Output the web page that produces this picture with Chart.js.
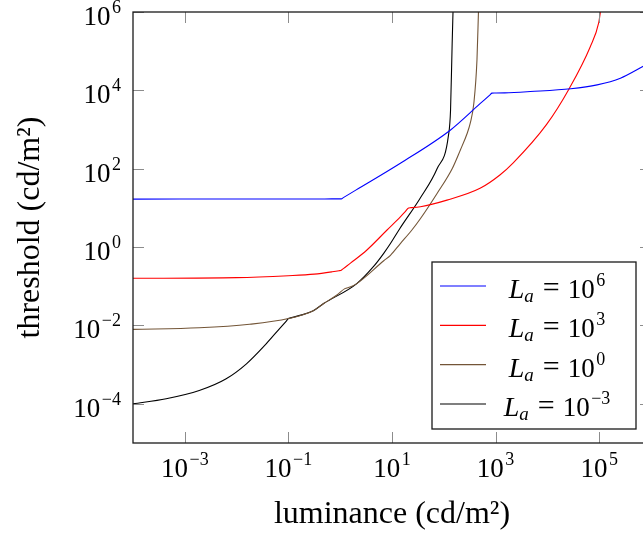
<!DOCTYPE html>
<html>
<head>
<meta charset="utf-8">
<script src="https://cdn.jsdelivr.net/npm/chart.js@4/dist/chart.umd.min.js"></script>
<style>
  html, body { margin: 0; padding: 0; overflow: hidden; background: #fff; }
</style>
</head>
<body>
<canvas id="chart" width="652" height="534"></canvas>
<script>
// adaptation luminance exponents (legend: L_a = 10^e)
const adaptExps = [6, 3, 0, -3];
const lineColors = ['#0000ff', '#ff0000', 'rgb(115,85,55)', '#000000'];

// La = 10^6
const lumBlue = [1e-4, 0.01, 0.5, 0.9, 1.05, 1.15, 2.0, 14.5, 135, 501, 780, 851, 950, 1500, 4680, 28200, 91200, 257000, 724000];
const thrBlue = [16.8, 16.85, 16.95, 16.98, 17.0, 18.3, 28.4, 138, 977, 4570, 7670, 8510, 8550, 8610, 9330, 11000, 13800, 20400, 41700];

// La = 10^3
const lumRed = [1e-4, 0.01, 0.1, 0.316, 0.7, 0.95, 1.05, 1.15, 1.6, 3.24, 7.94, 14.5, 17.8, 20.9, 23, 35.5, 115, 501, 1210, 2190, 9660, 26300, 67600, 97700, 107000];
const thrRed = [0.160, 0.166, 0.186, 0.204, 0.234, 0.250, 0.257, 0.283, 0.395, 0.832, 2.69, 5.89, 7.9, 10.0, 10.15, 10.7, 15.8, 31.6, 69.2, 141, 1350, 11000, 132000, 525000, 1150000];

// La = 10^0
const lumBrown = [1e-4, 0.0019, 0.0178, 0.1, 0.302, 0.479, 0.851, 1.23, 1.55, 2.09, 6.92, 9.33, 14.5, 24.0, 35.5, 74.1, 145, 209, 282, 324, 380, 437, 468];
const thrBrown = [0.00794, 0.0087, 0.0107, 0.0150, 0.0238, 0.0363, 0.0589, 0.0871, 0.0955, 0.117, 0.447, 0.617, 1.23, 2.69, 5.37, 23.4, 100, 302, 794, 1450, 4680, 60300, 1150000];

// La = 10^-3
const lumBlack = [1e-4, 4.37e-4, 0.0019, 0.0063, 0.0155, 0.0372, 0.0676, 0.092, 0.1, 0.11, 0.302, 0.479, 2.09, 4.37, 6.92, 9.33, 14.1, 34.7, 74.1, 123, 135, 145, 151];
const thrBlack = [1.0e-4, 1.35e-4, 2.19e-4, 4.37e-4, 0.00105, 0.00339, 0.00832, 0.01315, 0.0150, 0.0156, 0.0238, 0.0363, 0.117, 0.316, 0.692, 1.23, 2.95, 17.4, 100, 708, 3160, 158000, 1150000];

// tick labels (powers of ten)
const xTickExps = [-3, -1, 1, 3, 5];
const yTickExps = [-4, -2, 0, 2, 4, 6];

const serif = '"Liberation Serif", "Times New Roman", serif';

function pts(xs, ys) {
  return xs.map((x, i) => ({ x: x, y: ys[i] }));
}

function supText(e) {
  return e < 0 ? '\u2212' + (-e) : String(e);
}

// draws "10^e" with a raised exponent
function drawPow(ctx, e, x, baseY, align, big, small) {
  const sup = supText(e);
  ctx.font = big + 'px ' + serif;
  const wb = ctx.measureText('10').width;
  ctx.font = small + 'px ' + serif;
  const ws = ctx.measureText(sup).width;
  const w = wb + 1.5 + ws;
  let left = x;
  if (align === 'center') left = x - w / 2;
  if (align === 'right') left = x - w;
  ctx.textAlign = 'left';
  ctx.textBaseline = 'alphabetic';
  ctx.font = big + 'px ' + serif;
  ctx.fillText('10', left, baseY);
  ctx.font = small + 'px ' + serif;
  ctx.fillText(sup, left + wb + 1.5, baseY - 12);
  return w;
}

function powWidth(ctx, e, big, small) {
  ctx.font = big + 'px ' + serif;
  const wb = ctx.measureText('10').width;
  ctx.font = small + 'px ' + serif;
  return wb + 1.5 + ctx.measureText(supText(e)).width;
}

const axesPlugin = {
  id: 'pgfAxes',
  afterDraw(chart) {
    const ctx = chart.ctx;
    const a = chart.chartArea;
    const xs = chart.scales.x, ys = chart.scales.y;
    ctx.save();
    ctx.fillStyle = '#000';

    // tick marks (inward)
    ctx.strokeStyle = '#8c8c8c';
    ctx.lineWidth = 1;
    xTickExps.forEach(e => {
      const px = Math.round(xs.getPixelForValue(Math.pow(10, e))) + 0.5;
      ctx.beginPath();
      ctx.moveTo(px, a.bottom); ctx.lineTo(px, a.bottom - 11);
      ctx.moveTo(px, a.top); ctx.lineTo(px, a.top + 11);
      ctx.stroke();
    });
    yTickExps.forEach(e => {
      const py = Math.round(ys.getPixelForValue(Math.pow(10, e))) + 0.5;
      ctx.beginPath();
      ctx.moveTo(a.left, py); ctx.lineTo(a.left + 11, py);
      ctx.moveTo(a.right, py); ctx.lineTo(a.right - 11, py);
      ctx.stroke();
    });

    // frame
    ctx.strokeStyle = '#1a1a1a';
    ctx.lineWidth = 1.3;
    ctx.strokeRect(a.left, a.top, a.right - a.left, a.bottom - a.top);

    // tick labels
    xTickExps.forEach(e => {
      drawPow(ctx, e, xs.getPixelForValue(Math.pow(10, e)), a.bottom + 34, 'center', 27, 18);
    });
    yTickExps.forEach(e => {
      drawPow(ctx, e, a.left - 12, ys.getPixelForValue(Math.pow(10, e)) + 13, 'right', 27, 18);
    });

    // axis titles
    ctx.font = '32px ' + serif;
    ctx.textAlign = 'center';
    ctx.textBaseline = 'alphabetic';
    ctx.fillText('luminance (cd/m\u00b2)', (a.left + a.right) / 2, a.bottom + 80);
    ctx.save();
    ctx.translate(39, (a.top + a.bottom) / 2);
    ctx.rotate(-Math.PI / 2);
    ctx.fillText('threshold (cd/m\u00b2)', 0, 0);
    ctx.restore();

    // legend
    const bw = 204, bh = 167;
    const bx = a.right - 15 - bw, by = a.bottom - 14 - bh;
    ctx.fillStyle = '#fff';
    ctx.fillRect(bx, by, bw, bh);
    ctx.strokeStyle = '#1a1a1a';
    ctx.lineWidth = 1.3;
    ctx.strokeRect(bx, by, bw, bh);
    adaptExps.forEach((e, i) => {
      const ry = by + 24 + i * 39.33;
      ctx.strokeStyle = lineColors[i];
      ctx.lineWidth = 1.2;
      ctx.beginPath();
      ctx.moveTo(bx + 8, ry);
      ctx.lineTo(bx + 54, ry);
      ctx.stroke();

      const base = ry + 12;
      ctx.font = 'italic 28px ' + serif;
      const wL = ctx.measureText('L').width;
      ctx.font = 'italic 19px ' + serif;
      const wa = ctx.measureText('a').width;
      ctx.font = '30px ' + serif;
      const wEq = ctx.measureText('=').width;
      const wP = powWidth(ctx, e, 27, 18);
      const g1 = 9, g2 = 8;
      const total = wL + wa + g1 + wEq + g2 + wP;
      let x = bx + 125 - total / 2;
      ctx.fillStyle = '#000';
      ctx.textAlign = 'left';
      ctx.font = 'italic 28px ' + serif;
      ctx.fillText('L', x, base); x += wL;
      ctx.font = 'italic 19px ' + serif;
      ctx.fillText('a', x, base + 4); x += wa + g1;
      ctx.font = '30px ' + serif;
      ctx.fillText('=', x, base - 1); x += wEq + g2;
      drawPow(ctx, e, x, base, 'left', 27, 18);
    });
    ctx.restore();
  }
};

const series = [
  pts(lumBlue, thrBlue),
  pts(lumRed, thrRed),
  pts(lumBrown, thrBrown),
  pts(lumBlack, thrBlack)
];

const chart = new Chart(document.getElementById('chart'), {
  type: 'line',
  data: {
    datasets: series.map((d, i) => ({
      label: 'La = 10^' + adaptExps[i],
      data: d,
      borderColor: lineColors[i],
      borderWidth: 1.1,
      pointRadius: 0,
      cubicInterpolationMode: 'monotone',
      fill: false
    }))
  },
  options: {
    responsive: false,
    devicePixelRatio: 1,
    animation: false,
    layout: { padding: { left: 133, top: 12, right: 1, bottom: 91 } },
    plugins: { legend: { display: false }, tooltip: { enabled: false } },
    scales: {
      x: { type: 'logarithmic', min: 1e-4, max: 1e6, display: false },
      y: { type: 'logarithmic', min: 1e-5, max: 1e6, display: false }
    }
  },
  plugins: [axesPlugin]
});
</script>
</body>
</html>
